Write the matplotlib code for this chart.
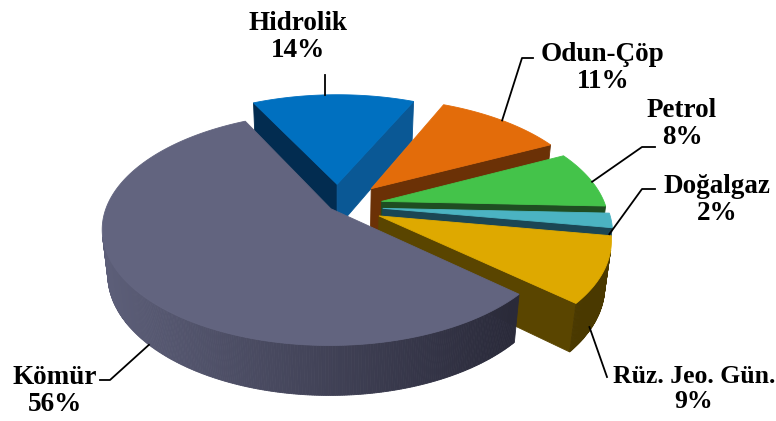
import numpy as np
import matplotlib.pyplot as plt
from matplotlib.patches import Polygon
from matplotlib.colors import to_rgb

# Enerji kaynaklarına göre dağılım (%)
labels = ['Kömür', 'Hidrolik', 'Odun-Çöp', 'Petrol', 'Doğalgaz', 'Rüz. Jeo. Gün.']
shares = [56, 14, 11, 8, 2, 9]
explode = [0.04, 0.2, 0.22, 0.2, 0.2, 0.2]

top_colors = ['#62647f', '#0070c0', '#e36c0a', '#44c34a', '#4bb3c2', '#dea900']
start_face = ['#2c2c3c', '#022c50', '#5a2800', '#1f4d22', '#1b4654', '#5a4500']
end_face = ['#2c2c3c', '#0a5895', '#6b3106', '#1f4d22', '#1b4654', '#5a4500']
wall_light = ['#5c5e78', '#034a80', '#6b3106', '#1f4d22', '#3a9aaa', '#5e4800']
wall_dark = ['#2a2a3a', '#034a80', '#6b3106', '#1f4d22', '#3a9aaa', '#4a3900']

# 3B görünüm ayarları
elev = np.radians(30)
cam_dist = 5.0
scale = 224
cx, cy = 338, 206
height = 0.235
start_angle = 132  # saat yönünde, tepeden

cam = np.array([0.0, -cam_dist * np.cos(elev), cam_dist * np.sin(elev)])


def project(X, Y, Z):
    X, Y, Z = np.asarray(X, float), np.asarray(Y, float), np.asarray(Z, float)
    yv = Y * np.sin(elev) + Z * np.cos(elev)
    d = Y * np.cos(elev) - Z * np.sin(elev)
    s = cam_dist / (cam_dist + d)
    return cx + scale * s * X, cy - scale * s * yv


def facing(P, n):
    return np.dot(cam - P, n) > 0


def mix(c1, c2, t):
    a, b = np.array(to_rgb(c1)), np.array(to_rgb(c2))
    return tuple(a + (b - a) * np.clip(t, 0, 1))


fig = plt.figure(figsize=(7.76, 4.21), dpi=100)
ax = fig.add_axes([0, 0, 1, 1])
ax.set_xlim(0, 776)
ax.set_ylim(421, 0)
ax.axis('off')

bounds = start_angle + np.concatenate([[0], np.cumsum(shares)]) / 100 * 360
geo = []
for i in range(len(shares)):
    t0, t1 = bounds[i], bounds[i + 1]
    mid = np.radians((t0 + t1) / 2)
    ox, oy = explode[i] * np.sin(mid), explode[i] * np.cos(mid)
    geo.append((t0, t1, mid, ox, oy))


def draw_slice(i):
    t0, t1, mid, ox, oy = geo[i]
    th = np.radians(np.linspace(t0, t1, max(int(t1 - t0), 2) * 2))
    rx, ry = ox + np.sin(th), oy + np.cos(th)
    faces = []
    # radyal yüzler
    for t, col, sgn in [(t0, start_face[i], -1), (t1, end_face[i], 1)]:
        a = np.radians(t + sgn * 90)
        n = np.array([np.sin(a), np.cos(a), 0])
        ex, ey = ox + np.sin(np.radians(t)), oy + np.cos(np.radians(t))
        c = np.array([(ox + ex) / 2, (oy + ey) / 2, -height / 2])
        if facing(c, n):
            X = [ox, ex, ex, ox]
            Y = [oy, ey, ey, oy]
            Z = [0, 0, -height, -height]
            faces.append((X, Y, Z, col))
    # dış duvar
    for j in range(len(th) - 1):
        am = (th[j] + th[j + 1]) / 2
        n = np.array([np.sin(am), np.cos(am), 0])
        P = np.array([ox + np.sin(am), oy + np.cos(am), -height / 2])
        if not facing(P, n):
            continue
        X = [rx[j], rx[j + 1], rx[j + 1], rx[j]]
        Y = [ry[j], ry[j + 1], ry[j + 1], ry[j]]
        Z = [0, 0, -height, -height]
        sx, _ = project(P[0], P[1], P[2])
        col = mix(wall_light[i], wall_dark[i], (sx - 110) / 400)
        faces.append((X, Y, Z, col))
    for X, Y, Z, col in faces:
        px, py = project(X, Y, Z)
        ax.add_patch(Polygon(np.c_[px, py], closed=True, facecolor=col,
                             edgecolor=col, linewidth=0.6))
    px, py = project(np.r_[ox, rx], np.r_[oy, ry], np.zeros(len(rx) + 1))
    ax.add_patch(Polygon(np.c_[px, py], closed=True, facecolor=top_colors[i],
                         edgecolor=top_colors[i], linewidth=0.6))


for i in [1, 2, 3, 4, 5, 0]:
    draw_slice(i)

# etiketler ve bağlantı çizgileri
text_pos = [(55, 391), (298, 37), (603, 68), (682, 124), (717, 200), (694, 389)]
text_size = [19.5, 19.5, 19.5, 19.5, 19.5, 18.5]
# bağlantı noktası: dilim içindeki açı oranı, yükseklik oranı
anchors = [(0.47, 1.0), (0.45, 0.0), (0.5, 0.0), (0.55, 0.0), (0.5, 0.3), (0.7, 0.9)]
elbows = [[(110, 380), (100, 380)], [None], [(522, 58), (533, 58)],
          [(642, 147), (655, 147)], [(642, 189), (655, 189)], [(607, 377)]]

for i, lab in enumerate(labels):
    t0, t1, mid, ox, oy = geo[i]
    fa, fz = anchors[i]
    ta = np.radians(t0 + fa * (t1 - t0))
    px, py = project(ox + np.sin(ta), oy + np.cos(ta), -fz * height)
    pts = [(float(px), float(py))]
    for p in elbows[i]:
        pts.append(p if p is not None else (float(px), 75))
    ax.plot([p[0] for p in pts], [p[1] for p in pts], color='black', lw=1.3)
    ax.text(text_pos[i][0], text_pos[i][1], f'{lab}\n{shares[i]}%',
            ha='center', va='center', fontsize=text_size[i], fontweight='bold',
            family='Liberation Serif', linespacing=1.15)

fig.savefig('out.png', dpi=100)
